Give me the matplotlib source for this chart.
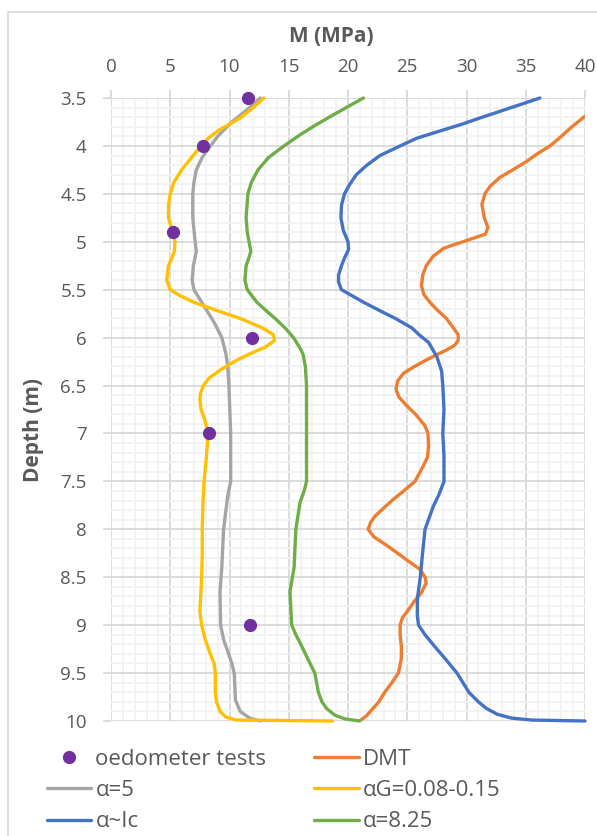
import numpy as np
import matplotlib.pyplot as plt
from matplotlib.patches import Rectangle
from matplotlib.ticker import MultipleLocator, FormatStrFormatter

plt.rcParams['font.family'] = ['Open Sans', 'DejaVu Sans']

# oedometer tests
oed_d = [3.5, 4.0, 4.9, 6.0, 7.0, 9.0]
oed_m = [11.6, 7.8, 5.2, 11.9, 8.25, 11.7]

# DMT
dmt_d = [3.69, 3.8, 3.9, 4.0, 4.08, 4.16, 4.25, 4.33, 4.42, 4.5, 4.61, 4.75, 4.85, 4.92, 5.0,
         5.04, 5.07, 5.15, 5.25, 5.35, 5.46, 5.55, 5.63, 5.72, 5.8, 5.9, 5.97, 6.03, 6.08, 6.13,
         6.19, 6.25, 6.31, 6.37, 6.45, 6.54, 6.62, 6.71, 6.8, 6.92, 7.0, 7.13, 7.25, 7.34, 7.42,
         7.5, 7.6, 7.69, 7.78, 7.86, 7.93, 8.0, 8.08, 8.17, 8.26, 8.35, 8.42, 8.5, 8.56, 8.66,
         8.75, 8.84, 8.92, 9.0, 9.1, 9.22, 9.35, 9.5, 9.6, 9.7, 9.8, 9.87, 9.94, 10.0]
dmt_m = [40.0, 38.9, 38.0, 37.05, 36.0, 35.1, 33.9, 32.8, 32.0, 31.55, 31.3, 31.5, 31.8, 31.6, 29.7,
         28.7, 28.05, 27.2, 26.6, 26.3, 26.2, 26.4, 26.9, 27.6, 28.3, 28.9, 29.3, 29.3, 29.0, 28.3,
         27.3, 26.35, 25.5, 24.7, 24.2, 24.05, 24.3, 24.95, 25.7, 26.5, 26.75, 26.8, 26.7, 26.35, 26.0,
         25.65, 24.7, 23.8, 23.0, 22.3, 21.9, 21.7, 22.2, 23.3, 24.3, 25.3, 26.1, 26.5, 26.6, 26.2,
         25.6, 25.1, 24.6, 24.4, 24.4, 24.5, 24.5, 24.25, 23.7, 23.1, 22.6, 22.1, 21.6, 21.0]

# alpha = 5
a5_d = [3.5, 3.6, 3.75, 3.9, 4.0, 4.12, 4.25, 4.38, 4.5, 4.75, 5.0, 5.1, 5.25, 5.4, 5.5, 5.63,
        5.72, 5.82, 5.9, 6.0, 6.17, 6.3, 6.5, 7.0, 7.5, 7.65, 8.0, 8.4, 8.65, 9.0, 9.15, 9.29,
        9.4, 9.5, 9.78, 9.9, 9.97, 10.0]
a5_m = [12.6, 11.7, 10.2, 9.0, 8.4, 7.7, 7.2, 7.0, 6.9, 6.9, 7.1, 7.2, 6.95, 6.85, 7.0, 7.65,
        8.1, 8.6, 8.95, 9.35, 9.7, 9.85, 9.95, 10.1, 10.1, 9.85, 9.5, 9.35, 9.2, 9.25, 9.5, 9.9,
        10.2, 10.4, 10.5, 10.9, 11.7, 12.6]

# alpha G = 0.08-0.15
ag_d = [3.5, 3.6, 3.71, 3.84, 3.92, 4.0, 4.12, 4.25, 4.38, 4.5, 4.62, 4.75, 4.9, 5.0, 5.1, 5.18,
        5.25, 5.4, 5.5, 5.56, 5.63, 5.72, 5.8, 5.9, 5.97, 6.03, 6.1, 6.17, 6.25, 6.34, 6.42, 6.5,
        6.58, 6.65, 6.75, 6.85, 7.0, 7.25, 7.5, 7.75, 8.0, 8.25, 8.5, 8.75, 8.85, 9.0, 9.15, 9.29,
        9.4, 9.5, 9.6, 9.7, 9.8, 9.9, 9.96, 9.99, 10.0]
ag_m = [12.9, 12.0, 10.9, 9.05, 8.2, 7.6, 6.8, 5.96, 5.3, 5.0, 4.85, 4.85, 5.2, 5.4, 5.35, 5.1,
        4.85, 4.7, 5.0, 5.8, 6.95, 9.0, 10.9, 12.8, 13.7, 13.8, 13.0, 11.7, 10.4, 9.2, 8.3, 7.8,
        7.55, 7.5, 7.6, 7.9, 8.2, 8.05, 7.85, 7.75, 7.7, 7.7, 7.65, 7.55, 7.5, 7.65, 7.95, 8.35,
        8.7, 8.8, 8.8, 8.8, 8.9, 9.2, 9.7, 10.6, 18.7]

# alpha ~ Ic
aic_d = [3.5, 3.57, 3.64, 3.71, 3.78, 3.85, 3.92, 4.0, 4.1, 4.2, 4.3, 4.41, 4.5, 4.62,
         4.75, 4.88, 5.0, 5.08, 5.17, 5.25, 5.35, 5.42, 5.5, 5.56, 5.63, 5.72, 5.8, 5.9, 5.97,
         6.05, 6.2, 6.35, 6.5, 6.75, 7.0, 7.24, 7.5, 7.63, 7.76, 8.0, 8.24, 8.5, 8.73, 8.9, 9.0,
         9.1, 9.22, 9.35, 9.5, 9.6, 9.7, 9.8, 9.87, 9.93, 9.97, 9.99, 10.0]
aic_m = [36.2, 34.5, 32.8, 31.1, 29.45, 27.6, 25.8, 24.4, 22.7, 21.6, 20.7, 20.1, 19.7, 19.45,
         19.4, 19.6, 20.0, 20.05, 19.7, 19.45, 19.2, 19.2, 19.45, 20.3, 21.3, 22.7, 24.0, 25.4, 26.0,
         26.8, 27.5, 27.9, 28.0, 28.1, 28.0, 28.1, 28.1, 27.7, 27.2, 26.5, 26.3, 26.1, 25.85, 25.85, 25.95,
         26.5, 27.3, 28.2, 29.2, 29.7, 30.2, 31.0, 31.7, 32.6, 33.8, 35.5, 40.0]

# alpha = 8.25
a825_d = [3.5, 3.59, 3.68, 3.78, 3.88, 4.0, 4.12, 4.25, 4.38, 4.5, 4.75, 4.9, 5.0, 5.1, 5.18, 5.25,
          5.4, 5.5, 5.63, 5.72, 5.8, 5.9, 6.0, 6.1, 6.17, 6.3, 6.5, 7.0, 7.5, 7.6, 7.72, 8.0, 8.4,
          8.65, 9.0, 9.1, 9.22, 9.35, 9.5, 9.7, 9.8, 9.87, 9.94, 9.98, 10.0]
a825_m = [21.3, 20.0, 18.7, 17.3, 16.0, 14.6, 13.3, 12.4, 11.85, 11.55, 11.4, 11.5, 11.65, 11.8, 11.6, 11.4,
          11.3, 11.5, 12.3, 13.1, 13.85, 14.7, 15.4, 15.9, 16.2, 16.4, 16.5, 16.5, 16.5, 16.3, 15.95, 15.6, 15.45,
          15.1, 15.25, 15.6, 16.1, 16.6, 17.2, 17.5, 17.8, 18.2, 18.9, 19.8, 21.0]

fig = plt.figure(figsize=(5.97, 8.36), dpi=100)
ax = fig.add_axes([111/597, 1-721/836, 474/597, 623/836])

lw = 2.4
kw = dict(lw=lw, solid_joinstyle='round', solid_capstyle='round')
l_dmt, = ax.plot(dmt_m, dmt_d, color='#ED7D31', label='DMT', **kw)
l_a5, = ax.plot(a5_m, a5_d, color='#A5A5A5', label='α=5', clip_on=False, **kw)
l_ag, = ax.plot(ag_m, ag_d, color='#FFC000', label='αG=0.08-0.15', clip_on=False, **kw)
l_aic, = ax.plot(aic_m, aic_d, color='#4472C4', label='α~Ic', clip_on=False, **kw)
l_a825, = ax.plot(a825_m, a825_d, color='#70AD47', label='α=8.25', clip_on=False, **kw)
p_oed, = ax.plot(oed_m, oed_d, 'o', color='#7030A0', ms=8.5, label='oedometer tests',
                 clip_on=False, zorder=5)

ax.set_xlim(0, 40)
ax.set_ylim(10, 3.5)
ax.xaxis.tick_top()
ax.xaxis.set_major_locator(MultipleLocator(5))
ax.xaxis.set_minor_locator(MultipleLocator(1))
ax.yaxis.set_major_locator(MultipleLocator(0.5))
ax.yaxis.set_minor_locator(MultipleLocator(0.1))
ax.yaxis.set_major_formatter(FormatStrFormatter('%g'))
ax.grid(which='major', color='#d9d9d9', lw=1.3)
ax.grid(which='minor', color='#f2f2f2', lw=1.3)
ax.set_axisbelow(True)
for s in ax.spines.values():
    s.set_visible(False)
ax.tick_params(which='major', length=5.5, color='#d9d9d9', width=1.3, labelsize=13.5,
               labelcolor='#595959')
ax.tick_params(axis='x', which='major', pad=10)
ax.tick_params(axis='y', which='major', pad=12)
ax.tick_params(which='minor', length=0)

fig.text(331/597, 1-37/836, 'M (MPa)', ha='center', va='center', fontsize=15,
         fontweight='bold', color='#595959')
fig.text(34/597, 1-430/836, 'Depth (m)', ha='center', va='center', rotation=90,
         fontsize=15, fontweight='bold', color='#595959')

fig.patches.append(Rectangle((8/597, -0.1), 1.0, 1.1 - 12/836, transform=fig.transFigure,
                             fill=False, edgecolor='#d9d9d9', lw=1.2))

handles = [p_oed, l_a5, l_aic, l_dmt, l_ag, l_a825]
leg = fig.legend(handles=handles, labels=[h.get_label() for h in handles], ncol=2,
                 loc='upper left', bbox_to_anchor=(47/597, 1-749/836), frameon=False,
                 borderpad=0, borderaxespad=0,
                 fontsize=16, handlelength=2.0, columnspacing=2.15, labelspacing=0.46,
                 handletextpad=0.18, labelcolor='#595959')

fig.savefig('out.png', dpi=100)
